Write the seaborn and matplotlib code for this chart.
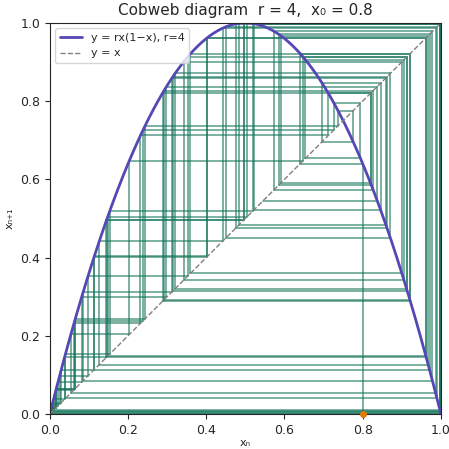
import numpy as np
import pandas as pd
import matplotlib
matplotlib.use("Agg")
import matplotlib.pyplot as plt
import seaborn as sns

# Parameters
r = 4.0
x0 = 0.8
n_steps = 100

sns.set_style("ticks")

# parabola and diagonal
xs = np.linspace(0, 1, 400)
curve = pd.DataFrame({"x": xs, "y": r * xs * (1 - xs)})

# cobweb path
px, py = [x0], [0.0]
x = x0
for i in range(n_steps):
    y = r * x * (1 - x)
    px += [x, y]
    py += [y, y]
    x = y

fig, ax = plt.subplots(figsize=(4.49, 4.49), dpi=100)
fig.subplots_adjust(left=0.111, right=0.982, bottom=0.078, top=0.949)

for i in range(len(px) - 1):
    ax.plot(px[i:i + 2], py[i:i + 2], color="#17755a", lw=1.1, alpha=0.72)

sns.lineplot(data=curve, x="x", y="y", ax=ax, color="#5448b5", lw=2,
             label="y = rx(1\u2212x), r=4")
ax.plot([0, 1], [0, 1], ls="--", color="gray", lw=1, label="y = x")
ax.plot([x0], [0], "o", color="#e07b00", ms=4, clip_on=False, zorder=5)

ax.set_xlim(0, 1)
ax.set_ylim(0, 1)
ax.set_xlabel("x\u2099", fontsize=8, labelpad=1)
ax.set_ylabel("x\u2099\u208a\u2081", fontsize=8)
ax.set_title("Cobweb diagram  r = 4,  x\u2080 = 0.8", fontsize=11)
ax.tick_params(labelsize=9)
ax.legend(loc="upper left", fontsize=8)

plt.savefig("out.png", dpi=100)
